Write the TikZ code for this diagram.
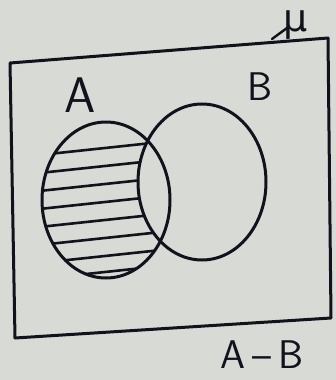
\documentclass[tikz,border=0pt]{standalone}
\usepackage{tikz}
\usepackage{fontspec}
\newfontfamily\djfont{DejaVu Sans}
\definecolor{paper}{RGB}{216,218,213}
\definecolor{ink}{RGB}{18,18,28}
\tikzset{
  ink/.style={draw=ink, line width=3pt, line join=round, line cap=round},
  hatch/.style={draw=ink, line width=2.6pt, line cap=round},
  lbl/.style={text=ink, inner sep=0pt}
}
\begin{document}
\begin{tikzpicture}[x=1pt,y=-1pt]
\fill[paper] (0,0) rectangle (336,380);
\useasboundingbox (0,0) rectangle (336,380);
% universal set
\coordinate (r1) at (10,63);
\coordinate (r2) at (328,38);
\coordinate (r3) at (331,318);
\coordinate (r4) at (15,338);
\draw[ink] (r1) -- (r2) -- (r3) -- (r4) -- cycle;
\coordinate (mu0) at (272,39);
\node[lbl, anchor=base west, font=\djfont\fontsize{38}{42}\selectfont] (mu) at (283,31) {μ};
\draw[ink, line width=2.4pt] (mu0) -- ([xshift=4pt,yshift=3pt]mu.base west);
% sets
\node[lbl, font=\sffamily\fontsize{50}{56}\selectfont] (lA) at (80,95) {A};
\node[lbl, font=\sffamily\fontsize{40}{46}\selectfont] (lB) at (260,87) {B};
% hatch A minus B
\begin{scope}
  \clip (106,200) ellipse [x radius=64, y radius=78];
  \foreach \y in {150,168,186,204,222,240,258,274} {
    \draw[hatch] (30,\y+6) -- (180,\y-10);
  }
\end{scope}
\fill[paper] (202,182) ellipse [x radius=64, y radius=78];
\draw[ink] (106,200) ellipse [x radius=64, y radius=78];
\draw[ink] (202,182) ellipse [x radius=64, y radius=78];
\node[lbl, font=\sffamily\fontsize{40}{46}\selectfont] (res) at (262,355) {A\,--\,B};
\end{tikzpicture}
\end{document}
